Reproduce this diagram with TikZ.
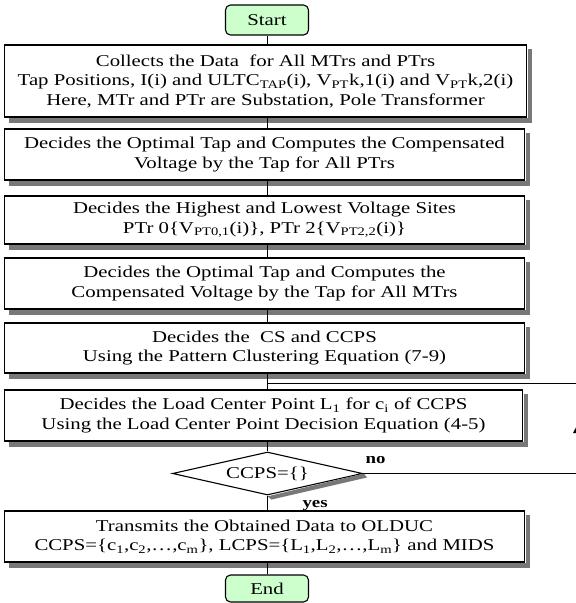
\documentclass[tikz,border=0pt]{standalone}
\usepackage{fontspec}
\setmainfont{Liberation Serif}[FakeStretch=1.26]
\usetikzlibrary{shapes.geometric}
\definecolor{shadowc}{RGB}{120,120,120}
\definecolor{termfill}{RGB}{204,255,204}
\begin{document}
\begin{tikzpicture}[x=1pt,y=-1pt,
  every node/.style={font=\fontsize{16.5}{19.5}\selectfont},
  procbox/.style={draw=black, line width=1.1pt, fill=white, rectangle, align=center, inner sep=0pt},
  termbox/.style={draw=black, line width=1.1pt, fill=termfill, rounded corners=5pt, align=center, inner sep=0pt},
  decbox/.style={draw=black, line width=1.1pt, fill=white, diamond, aspect=4.4, inner sep=0pt},
  conn/.style={draw=black, line width=0.9pt},
  lbl/.style={font=\fontsize{15}{16}\selectfont\bfseries}
]
\useasboundingbox (0,0) rectangle (576,603);

\node[termbox, minimum width=83pt, minimum height=30pt] (start) at (267,20) {Start};
\node[procbox, minimum width=522pt, minimum height=72pt] (b1) at (265.5,81) {Collects the Data \ for All MTrs and PTrs\\
Tap Positions, I(i) and ULTC\textsubscript{TAP}(i), V\textsubscript{PT}k,1(i) and V\textsubscript{PT}k,2(i)\\
Here, MTr and PTr are Substation, Pole Transformer};
\node[procbox, minimum width=520pt, minimum height=51pt] (b2) at (264.5,154.5) {Decides the Optimal Tap and Computes the Compensated\\Voltage by the Tap for All PTrs};
\node[procbox, minimum width=520pt, minimum height=48pt] (b3) at (264.5,220) {Decides the Highest and Lowest Voltage Sites\\PTr 0\{V\textsubscript{PT0,1}(i)\}, PTr 2\{V\textsubscript{PT2,2}(i)\}};
\node[procbox, minimum width=520pt, minimum height=51pt] (b4) at (264.5,283.5) {Decides the Optimal Tap and Computes the\\Compensated Voltage by the Tap for All MTrs};
\node[procbox, minimum width=520pt, minimum height=50pt] (b5) at (264.5,348) {Decides the \ CS and CCPS\\Using the Pattern Clustering Equation (7-9)};
\node[procbox, minimum width=518pt, minimum height=51pt] (b6) at (263.5,415.5) {Decides the Load Center Point L\textsubscript{1} for c\textsubscript{i} of CCPS\\Using the Load Center Point Decision Equation (4-5)};
\node[decbox, minimum width=190pt, minimum height=43pt] (d) at (267.5,473.5) {CCPS=\{\}};
\node[procbox, minimum width=520pt, minimum height=51pt] (b7) at (264.5,536.5) {Transmits the Obtained Data to OLDUC\\CCPS=\{c\textsubscript{1},c\textsubscript{2},\ldots,c\textsubscript{m}\}, LCPS=\{L\textsubscript{1},L\textsubscript{2},\ldots,L\textsubscript{m}\} and MIDS};
\node[termbox, minimum width=83pt, minimum height=27pt] (end) at (267,588.5) {End};

% drop shadows: gray strips along the right and bottom of each box
\foreach \n in {b1,b2,b3,b4,b5,b6,b7}{
  \fill[shadowc] ([xshift=0.6pt]\n.north east) ++(0,5) rectangle ([xshift=5pt,yshift=-5pt]\n.south east);
  \fill[shadowc] ([yshift=-0.6pt]\n.south west) ++(5,0) rectangle ([xshift=5pt,yshift=-5pt]\n.south east);
}
\fill[shadowc] ([xshift=0.8pt]d.east) -- ([xshift=4pt,yshift=-4pt]d.east) -- ([xshift=4pt,yshift=-4pt]d.south) -- ([yshift=-0.8pt]d.south) -- cycle;

\coordinate (j) at (267.5,383);
\coordinate (jr) at (581,383);
\coordinate (nr) at (581,473.5);

\draw[conn] (start.south) -- (start.south |- b1.north);
\draw[conn] (d.north |- b1.south) -- (d.north |- b2.north);
\draw[conn] (d.north |- b2.south) -- (d.north |- b3.north);
\draw[conn] (d.north |- b3.south) -- (d.north |- b4.north);
\draw[conn] (d.north |- b4.south) -- (d.north |- b5.north);
\draw[conn] (d.north |- b5.south) -- (d.north |- b6.north);
\draw[conn] (j) -- (jr);
\draw[conn] (d.north |- b6.south) -- (d.north);
\draw[conn] (d.south) -- (d.south |- b7.north);
\draw[conn] (d.south |- b7.south) -- (d.south |- end.north);
\draw[conn] (d.east) -- (nr) -- (jr);
\fill (581,418) -- (573,433) -- (589,433) -- cycle;

\node[lbl, anchor=base west] (no) at (362,463) {no};
\node[lbl, anchor=base west] (yes) at (299,507) {yes};
\end{tikzpicture}
\end{document}
